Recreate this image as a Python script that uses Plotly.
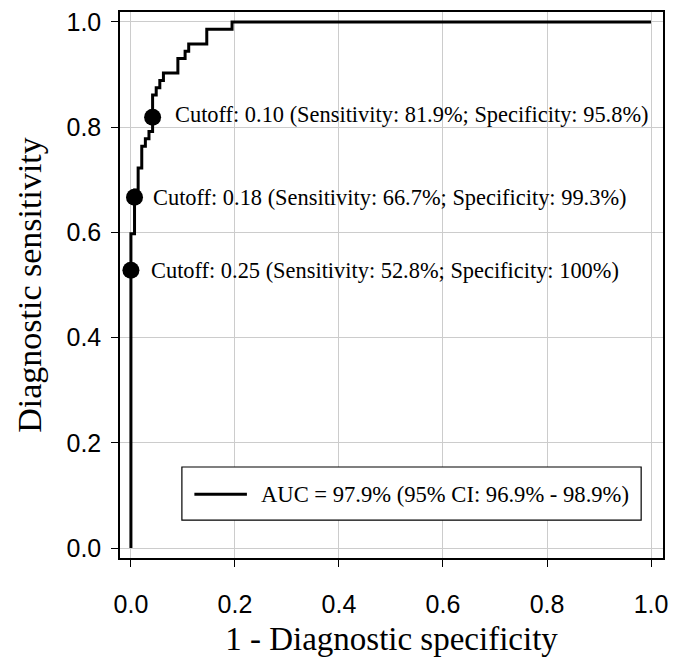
import plotly.graph_objects as go

# ROC curve (step function): 1 - specificity vs sensitivity
fpr = [0.0, 0.0, 0.0, 0.00694, 0.00694, 0.00694, 0.01389, 0.01389, 0.02083, 0.02083,
       0.02778, 0.02778, 0.03472, 0.03472, 0.04167, 0.04167, 0.04861, 0.04861,
       0.05556, 0.05556, 0.0625, 0.0625, 0.09028, 0.09028, 0.10417, 0.10417,
       0.11111, 0.11111, 0.14583, 0.14583, 0.19444, 0.19444, 1.0]
tpr = [0.0, 0.5278, 0.5972, 0.5972, 0.6667, 0.6806, 0.6806, 0.7222, 0.7222, 0.7639,
       0.7639, 0.7778, 0.7778, 0.7917, 0.7917, 0.8611, 0.8611, 0.875,
       0.875, 0.8889, 0.8889, 0.9028, 0.9028, 0.9306, 0.9306, 0.9444,
       0.9444, 0.9583, 0.9583, 0.9861, 0.9861, 1.0, 1.0]

# Highlighted cutoffs
cut_fpr = [0.0417, 0.0069, 0.0]
cut_tpr = [0.819, 0.667, 0.528]
cut_labels = [
    "Cutoff: 0.10 (Sensitivity: 81.9%; Specificity: 95.8%)",
    "Cutoff: 0.18 (Sensitivity: 66.7%; Specificity: 99.3%)",
    "Cutoff: 0.25 (Sensitivity: 52.8%; Specificity: 100%)",
]
legend_text = "AUC = 97.9% (95% CI: 96.9% - 98.9%)"
tick_vals = [0.0, 0.2, 0.4, 0.6, 0.8, 1.0]
tick_text = ["0.0", "0.2", "0.4", "0.6", "0.8", "1.0"]

SERIF = "Liberation Serif, Times New Roman, serif"
SANS = "Liberation Sans, Arial, sans-serif"

fig = go.Figure()
fig.add_trace(go.Scatter(x=fpr, y=tpr, mode="lines",
                         line=dict(color="black", width=3), showlegend=False,
                         hoverinfo="skip"))
fig.add_trace(go.Scatter(x=cut_fpr, y=cut_tpr, mode="markers",
                         marker=dict(color="black", size=17), showlegend=False))

shifts = [(20, 3), (16, 0), (18, 0)]
for xv, yv, lab, (dx, dy) in zip(cut_fpr, cut_tpr, cut_labels, shifts):
    fig.add_annotation(x=xv, y=yv, text=lab, showarrow=False, xanchor="left",
                       yanchor="middle", xshift=dx, yshift=dy,
                       font=dict(family=SERIF, size=22.4, color="black"))

# Legend box
fig.add_shape(type="rect", xref="x", yref="y", x0=0.098, x1=0.981, y0=0.053, y1=0.154,
              line=dict(color="black", width=1.2), fillcolor="white", layer="above")
fig.add_shape(type="line", xref="x", yref="y", x0=0.122, x1=0.223, y0=0.102, y1=0.102,
              line=dict(color="black", width=3), layer="above")
fig.add_annotation(x=0.246, y=0.102, xref="x", yref="y", text=legend_text, showarrow=False,
                   xanchor="left", yanchor="middle",
                   font=dict(family=SERIF, size=22.6, color="black"))

axis_common = dict(
    tickvals=tick_vals, ticktext=tick_text,
    showgrid=True, gridcolor="#cccccc", gridwidth=1,
    showline=True, linecolor="black", linewidth=1.5, mirror=True,
    ticks="outside", ticklen=7, tickcolor="black", tickwidth=1,
    tickfont=dict(family=SANS, size=25, color="black"),
    zeroline=False,
)

fig.update_layout(
    width=676, height=668,
    margin=dict(l=120, r=8, t=11, b=110),
    plot_bgcolor="white", paper_bgcolor="white",
    xaxis=dict(range=[-0.021, 1.023],
               title=dict(text="1 - Diagnostic specificity",
                          font=dict(family=SERIF, size=33, color="black"), standoff=10),
               ticklabelstandoff=16, **axis_common),
    yaxis=dict(range=[-0.019, 1.019],
               title=dict(text="Diagnostic sensitivity",
                          font=dict(family=SERIF, size=34, color="black"), standoff=15),
               ticklabelstandoff=5, **axis_common),
)

fig.write_html("out.html", config={"displayModeBar": False},
               post_script="document.body.style.margin='0';document.body.style.overflow='hidden';")
